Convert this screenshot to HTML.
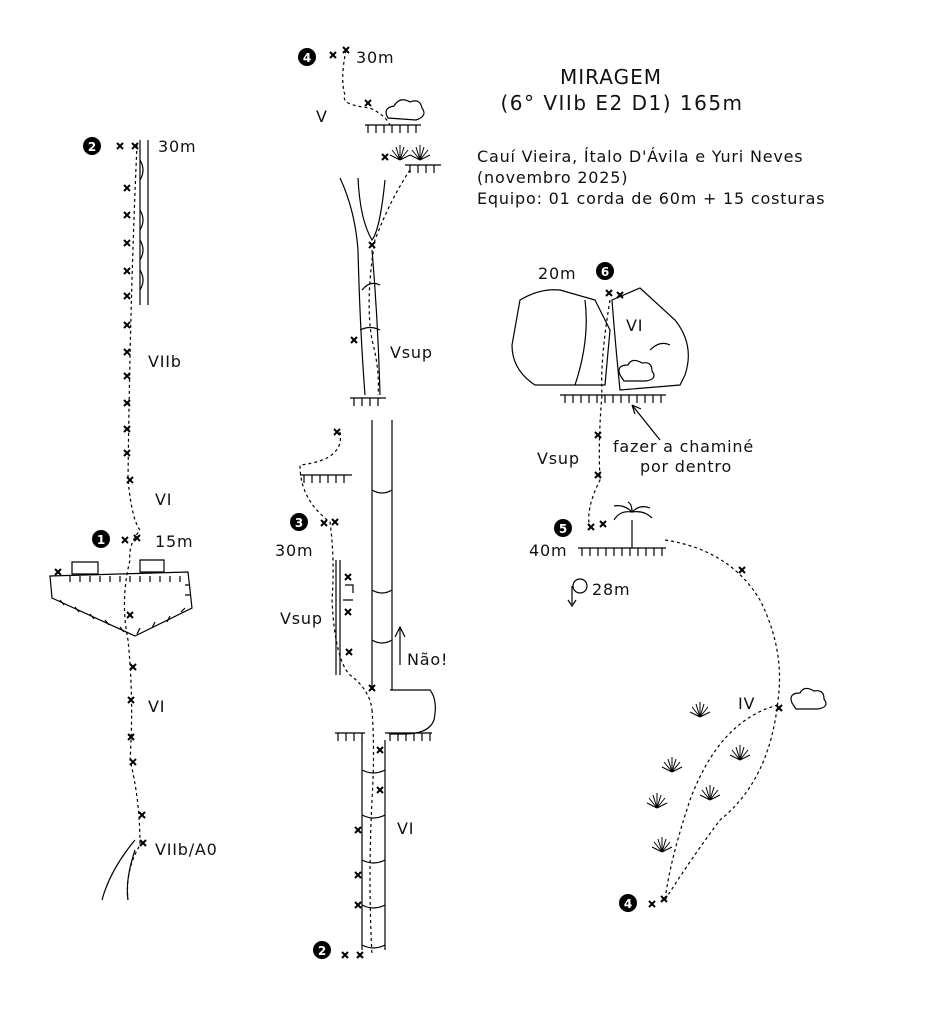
<!DOCTYPE html>
<html><head><meta charset="utf-8"><style>
html,body{margin:0;padding:0;background:#fff;width:930px;height:1024px;overflow:hidden}
text{font-family:"DejaVu Sans","Liberation Sans",sans-serif;fill:#111}
.t{font-size:16px;letter-spacing:0.8px}
</style></head><body>
<svg width="930" height="1024" viewBox="0 0 930 1024" xmlns="http://www.w3.org/2000/svg">
<defs>
<g id="bx"><path d="M-3,-3L3,3M3,-3L-3,3" stroke="#000" stroke-width="2"/></g>
<g id="gr" stroke="#000" stroke-width="1" fill="none"><path d="M0,0L-8,-10M0,0L-4,-13M0,0L0,-15M0,0L4,-13M0,0L8,-10M0,0L-10,-5M0,0L10,-5"/></g>
</defs>
<g fill="none" stroke="#000" stroke-width="1.2">
<path d="M137,145 Q130,300 128,480 Q132,520 140,530 Q128,545 130,560 Q120,600 128,640 Q134,700 130,760 Q140,800 140,845 Q125,870 128,900" stroke-dasharray="3,3"/>
<path d="M140,140V305M148,140V305"/>
<path d="M140,160q6,10 0,20M140,210q6,10 0,20M140,240q6,10 0,20M140,270q6,10 0,20"/>
<path d="M50,576L188,572L192,608L135,636L52,598Z"/>
<path d="M72,562h26v12h-26zM140,560h24v12h-24z"/>
<path d="M70,576v6M80,576v6M90,576v6M100,576v6M110,576v6M120,576v6M130,576v6M140,576v6M150,576v6M160,576v6M170,576v6M180,576v6M60,600l4,5M75,607l4,5M90,614l4,5M105,620l4,5M120,627l4,5M140,628l-3,6M155,622l-3,6M170,616l-3,6M185,608l-4,4M185,585h5M185,595h5"/>
<path d="M135,840 Q110,870 102,900M135,850Q125,880 128,900"/>
<path d="M346,50 Q340,80 345,95 Q340,105 370,108 Q385,115 390,125" stroke-dasharray="3,3"/>
<path d="M365,125h56M368,125v8M376,125v8M384,125v8M392,125v8M400,125v8M408,125v8M416,125v8"/>
<path d="M388,118q-6,-10 6,-12q6,-10 16,-4q10,-4 12,6q6,8 -6,12z"/>
<path d="M405,165h36M410,165v8M418,165v8M426,165v8M434,165v8"/>
<use href="#gr" x="400" y="160"/><use href="#gr" x="420" y="160"/>
<path d="M340,178 Q355,210 358,250 Q360,330 365,395M358,178 Q360,220 372,240 Q380,230 385,180M372,250 Q378,320 380,395M362,290 Q370,280 380,285M360,330q10,-5 20,0"/>
<path d="M410,170 Q390,200 375,240 Q365,300 372,340 Q380,370 378,395" stroke-dasharray="3,3"/>
<path d="M350,398h36M354,398v8M362,398v8M370,398v8M378,398v8"/>
<path d="M372,420V690M392,420V690M372,490q10,6 20,0M372,590q10,6 20,0M372,640q10,6 20,0"/>
<path d="M340,432 Q345,460 300,465 Q300,500 330,522 Q335,560 332,600 Q335,660 350,675 Q370,690 372,710" stroke-dasharray="3,3"/>
<path d="M300,475h52M304,475v8M312,475v8M320,475v8M328,475v8M336,475v8M344,475v8"/>
<path d="M336,560V675M340,560V675M345,585h8v8M343,600h10"/>
<path d="M400,665V627M395,637l5,-10 5,10"/>
<path d="M390,690h40q8,10 4,30q-5,14 -30,14h-14"/>
<path d="M372,710 Q375,750 372,800 Q368,880 372,955" stroke-dasharray="3,3"/>
<path d="M335,733h30M338,733v8M346,733v8M354,733v8M362,733v8M385,733h47M390,733v8M398,733v8M406,733v8M414,733v8M422,733v8M430,733v8"/>
<path d="M362,740V950M385,740V950M362,770q12,6 23,0M362,815q12,6 23,0M362,860q12,6 23,0M362,905q12,6 23,0M362,945q12,6 23,0"/>
<path d="M520,300 Q540,288 560,290 L595,300 L610,330 L605,385 L535,385 Q512,370 512,345Z"/>
<path d="M585,300 Q590,340 575,385"/>
<path d="M612,300 L640,288 L675,320 Q695,345 685,375 L680,385 L620,390 Q615,340 612,300Z"/>
<path d="M650,350 Q660,340 670,345"/>
<path d="M620,375q-4,-10 8,-10q4,-8 14,-2q10,-2 10,8q6,8 -6,10h-22z"/>
<path d="M560,395h106M565,395v8M573,395v8M581,395v8M589,395v8M597,395v8M605,395v8M613,395v8M621,395v8M629,395v8M637,395v8M645,395v8M653,395v8M661,395v8"/>
<path d="M660,440 L632,405M632,405l3,9M632,405l9,4"/>
<path d="M610,300 Q600,360 602,395 Q598,440 600,480 Q585,510 590,528" stroke-dasharray="3,3"/>
<path d="M578,548h88M582,548v8M590,548v8M598,548v8M606,548v8M614,548v8M622,548v8M630,548v8M638,548v8M646,548v8M654,548v8M662,548v8"/>
<path d="M632,548V520M632,512q-12,-2 -18,8M632,512q12,-2 20,6M632,512q-8,-8 -18,-6M632,512q8,-8 18,-4M632,512q0,-8 -4,-10"/>
<circle cx="580" cy="586" r="7"/><path d="M572,586v18M568,600l4,6 4,-6"/>
<path d="M665,540 Q730,550 760,600 Q785,650 778,700 Q770,780 720,820 Q690,860 665,900" stroke-dasharray="3,3"/>
<path d="M778,705 Q720,720 690,800 Q670,860 665,900" stroke-dasharray="3,3"/>
<path d="M792,703q-4,-10 8,-10q4,-8 14,-2q10,-2 10,8q6,8 -6,10h-22z"/>
</g>
<use href="#gr" x="700" y="717"/><use href="#gr" x="740" y="760"/><use href="#gr" x="672" y="772"/>
<use href="#gr" x="710" y="800"/><use href="#gr" x="657" y="808"/><use href="#gr" x="662" y="852"/>
<g>
<use href="#bx" x="120" y="146"/><use href="#bx" x="135" y="146"/>
<use href="#bx" x="127" y="188"/><use href="#bx" x="127" y="215"/><use href="#bx" x="127" y="243"/><use href="#bx" x="127" y="271"/><use href="#bx" x="127" y="296"/><use href="#bx" x="127" y="325"/><use href="#bx" x="127" y="352"/><use href="#bx" x="127" y="376"/><use href="#bx" x="127" y="403"/><use href="#bx" x="127" y="429"/><use href="#bx" x="127" y="453"/><use href="#bx" x="130" y="480"/>
<use href="#bx" x="125" y="540"/><use href="#bx" x="137" y="538"/><use href="#bx" x="58" y="572"/>
<use href="#bx" x="130" y="615"/><use href="#bx" x="133" y="667"/><use href="#bx" x="131" y="700"/><use href="#bx" x="131" y="737"/><use href="#bx" x="133" y="762"/><use href="#bx" x="142" y="815"/><use href="#bx" x="143" y="843"/>
<use href="#bx" x="333" y="55"/><use href="#bx" x="346" y="50"/><use href="#bx" x="368" y="103"/><use href="#bx" x="385" y="157"/>
<use href="#bx" x="372" y="245"/><use href="#bx" x="354" y="340"/><use href="#bx" x="337" y="432"/>
<use href="#bx" x="324" y="523"/><use href="#bx" x="335" y="522"/><use href="#bx" x="348" y="577"/><use href="#bx" x="348" y="612"/><use href="#bx" x="349" y="652"/><use href="#bx" x="372" y="688"/>
<use href="#bx" x="380" y="750"/><use href="#bx" x="380" y="790"/><use href="#bx" x="358" y="830"/><use href="#bx" x="358" y="875"/><use href="#bx" x="358" y="905"/>
<use href="#bx" x="345" y="955"/><use href="#bx" x="360" y="955"/>
<use href="#bx" x="609" y="293"/><use href="#bx" x="620" y="295"/><use href="#bx" x="598" y="435"/><use href="#bx" x="598" y="475"/>
<use href="#bx" x="591" y="527"/><use href="#bx" x="603" y="524"/><use href="#bx" x="742" y="570"/><use href="#bx" x="779" y="708"/>
<use href="#bx" x="652" y="904"/><use href="#bx" x="664" y="899"/>
</g>
<g font-size="12" font-weight="bold" text-anchor="middle">
<circle cx="92" cy="146" r="9"/><text x="92" y="151" style="fill:#fff">2</text>
<circle cx="101" cy="539" r="9"/><text x="101" y="544" style="fill:#fff">1</text>
<circle cx="307" cy="57" r="9"/><text x="307" y="62" style="fill:#fff">4</text>
<circle cx="299" cy="522" r="9"/><text x="299" y="527" style="fill:#fff">3</text>
<circle cx="322" cy="950" r="9"/><text x="322" y="955" style="fill:#fff">2</text>
<circle cx="605" cy="271" r="9"/><text x="605" y="276" style="fill:#fff">6</text>
<circle cx="563" cy="528" r="9"/><text x="563" y="533" style="fill:#fff">5</text>
<circle cx="628" cy="903" r="9"/><text x="628" y="908" style="fill:#fff">4</text>
</g>
<g class="t">
<text x="158" y="152">30m</text><text x="148" y="367">VIIb</text><text x="155" y="505">VI</text><text x="155" y="547">15m</text>
<text x="148" y="712">VI</text><text x="155" y="855">VIIb/A0</text>
<text x="356" y="63">30m</text><text x="316" y="122">V</text><text x="390" y="358">Vsup</text>
<text x="275" y="556">30m</text><text x="280" y="624">Vsup</text><text x="407" y="665">Não!</text><text x="397" y="834">VI</text>
<text x="611" y="84" text-anchor="middle" style="font-size:20px;letter-spacing:1px">MIRAGEM</text>
<text x="622" y="110" text-anchor="middle" style="font-size:20px;letter-spacing:1.5px">(6° VIIb E2 D1) 165m</text>
<text x="477" y="162">Cauí Vieira, Ítalo D'Ávila e Yuri Neves</text>
<text x="477" y="183">(novembro 2025)</text>
<text x="477" y="204">Equipo: 01 corda de 60m + 15 costuras</text>
<text x="538" y="279">20m</text><text x="626" y="331">VI</text>
<text x="613" y="452">fazer a chaminé</text><text x="640" y="472">por dentro</text>
<text x="537" y="464">Vsup</text><text x="529" y="556">40m</text><text x="592" y="595">28m</text><text x="738" y="709">IV</text>
</g>
</svg>
</body></html>
